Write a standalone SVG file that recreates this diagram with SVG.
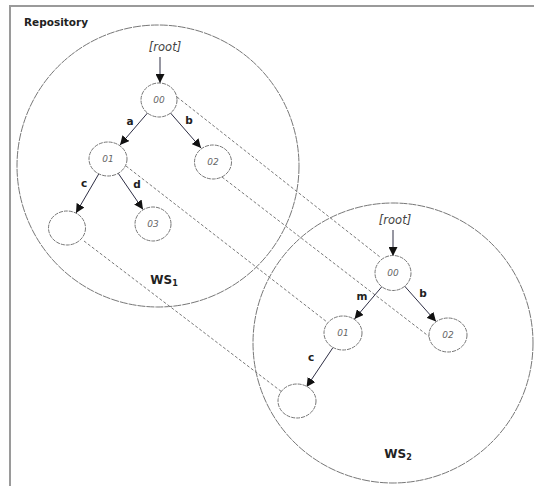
<svg xmlns="http://www.w3.org/2000/svg" width="534" height="486" viewBox="0 0 534 486">
  <style>
    .frame { stroke: #9a9a9a; stroke-width: 2; fill: none; }
    .ws { fill: none; stroke: #777777; stroke-width: 1; stroke-dasharray: 8 1; }
    .node { fill: #ffffff; stroke: #777777; stroke-width: 1; stroke-dasharray: 4 1; }
    .map { fill: none; stroke: #7a7a7a; stroke-width: 1; stroke-dasharray: 3 2; }
    .edge { fill: none; stroke: #2e2e44; stroke-width: 1; marker-end: url(#head); }
    .title { font-family: "DejaVu Sans", Verdana, sans-serif; font-size: 10.5px; font-weight: bold; fill: #222; }
    .root { font-family: "DejaVu Sans", Verdana, sans-serif; font-size: 11.5px; font-style: italic; fill: #444; text-anchor: middle; }
    .id { font-family: "DejaVu Sans", Verdana, sans-serif; font-size: 9px; font-style: italic; fill: #666; text-anchor: middle; }
    .lbl { font-family: "DejaVu Sans", Verdana, sans-serif; font-size: 10.5px; font-weight: bold; fill: #222; text-anchor: middle; }
    .wsname { font-family: "DejaVu Sans", Verdana, sans-serif; font-size: 12px; font-weight: bold; fill: #222; text-anchor: middle; }
  </style>
  <defs>
    <marker id="head" viewBox="0 0 10 10" refX="10" refY="5" markerWidth="9" markerHeight="9" markerUnits="userSpaceOnUse" orient="auto">
      <path d="M0,0 L10,5 L0,10 z" fill="#111"/>
    </marker>
  </defs>

  <rect width="534" height="486" fill="#ffffff"/>
  <!-- page frame -->
  <path class="frame" d="M10,486 V6 H534"/>
  <text class="title" x="24" y="26">Repository</text>

  <!-- workspace areas -->
  <g id="ws1">
    <circle class="ws" cx="158" cy="166" r="141"/>
    <text class="wsname" x="164" y="284">WS<tspan font-size="8" dy="2">1</tspan></text>
  </g>
  <g id="ws2">
    <circle class="ws" cx="393" cy="343" r="140"/>
    <text class="wsname" x="398" y="458">WS<tspan font-size="8" dy="2">2</tspan></text>
  </g>

  <!-- connectors -->
  <g id="connectors">
    <!-- correspondences between the two trees -->
    <line class="map" x1="177" y1="97" x2="380" y2="257"/>
    <line class="map" x1="222" y1="177" x2="431" y2="338"/>
    <line class="map" x1="126" y1="166" x2="327" y2="322"/>
    <line class="map" x1="84" y1="241" x2="282" y2="392"/>

    <!-- tree in WS1 -->
    <line class="edge" x1="160" y1="57" x2="160" y2="83"/>
    <line class="edge" x1="147.5" y1="113" x2="120" y2="145"/>
    <line class="edge" x1="170.5" y1="113" x2="201" y2="148"/>
    <line class="edge" x1="99" y1="173.5" x2="76" y2="213"/>
    <line class="edge" x1="118" y1="173" x2="143" y2="209.5"/>

    <!-- tree in WS2 -->
    <line class="edge" x1="393" y1="230" x2="393" y2="256"/>
    <line class="edge" x1="382" y1="286.5" x2="354.5" y2="319"/>
    <line class="edge" x1="404.5" y1="286" x2="436" y2="321.5"/>
    <line class="edge" x1="333" y1="347.5" x2="306.5" y2="387"/>
  </g>

  <!-- WS1 nodes -->
  <text class="root" x="165" y="51">[root]</text>
  <g id="ws1-n00"><ellipse class="node" cx="159" cy="100" rx="18" ry="17"/><text class="id" x="159" y="103">00</text></g>
  <g id="ws1-n01"><ellipse class="node" cx="108" cy="159" rx="19" ry="17"/><text class="id" x="108" y="162">01</text></g>
  <g id="ws1-n02"><ellipse class="node" cx="213" cy="162" rx="18.5" ry="17"/><text class="id" x="213" y="165">02</text></g>
  <g id="ws1-nc"><ellipse class="node" cx="67" cy="228" rx="18.5" ry="17"/></g>
  <g id="ws1-n03"><ellipse class="node" cx="153" cy="224" rx="18" ry="17"/><text class="id" x="153" y="227">03</text></g>
  <text class="lbl" x="130" y="125">a</text>
  <text class="lbl" x="189" y="124">b</text>
  <text class="lbl" x="84" y="187">c</text>
  <text class="lbl" x="137" y="188">d</text>

  <!-- WS2 nodes -->
  <text class="root" x="395" y="224">[root]</text>
  <g id="ws2-n00"><ellipse class="node" cx="393" cy="273" rx="18" ry="17.5"/><text class="id" x="393" y="276">00</text></g>
  <g id="ws2-n01"><ellipse class="node" cx="343" cy="333" rx="19" ry="17"/><text class="id" x="343" y="336">01</text></g>
  <g id="ws2-n02"><ellipse class="node" cx="448" cy="335" rx="19" ry="17"/><text class="id" x="448" y="338">02</text></g>
  <g id="ws2-nc"><ellipse class="node" cx="297" cy="401" rx="19" ry="17"/></g>
  <text class="lbl" x="362" y="300">m</text>
  <text class="lbl" x="423" y="297">b</text>
  <text class="lbl" x="311" y="361">c</text>
</svg>
